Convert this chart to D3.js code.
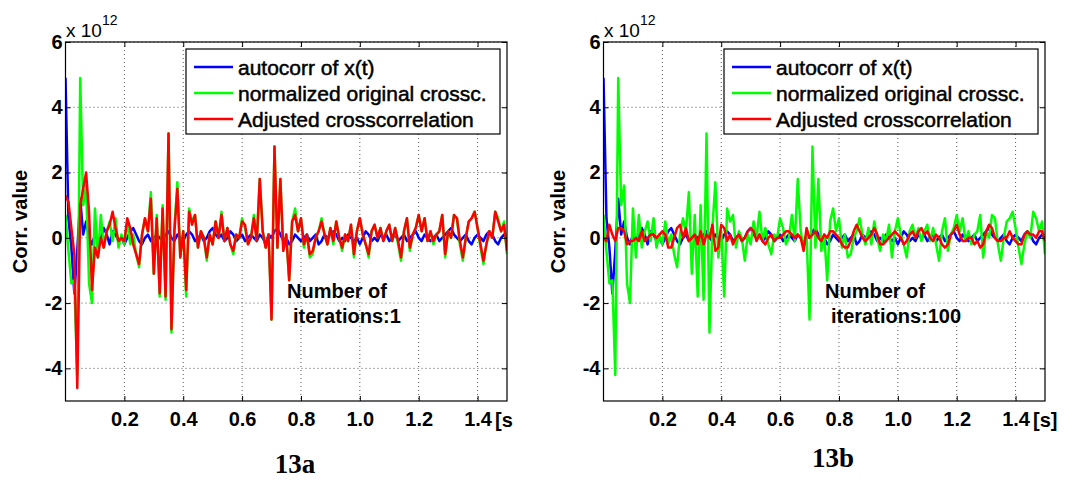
<!DOCTYPE html>
<html>
<head>
<meta charset="utf-8">
<script src="https://cdn.jsdelivr.net/npm/d3@7"></script>
<style>
  body { margin: 0; background: #fff; }
</style>
</head>
<body>
<div id="chart"></div>
<script>

// sample step of the correlation curves [s]
var step = 0.01;

// autocorr of x(t) (x 10^12), same in both panels
var blueAuto = [
  4.9, 0.6, -0.3, -1.7, -0.4, 1.2, 0.1, 0.5, 0.0, -0.2,
  0.1, -0.1, 0.0, 0.3, 0.1, -0.2, 0.2, 0.1, -0.1, 0.0,
  -0.2, 0.0, 0.2, 0.3, 0.1, -0.1, -0.2, 0.0, 0.1, -0.1,
  0.0, 0.1, 0.0, -0.1, 0.1, 0.2, 0.0, -0.1, 0.1, 0.0,
  -0.1, 0.1, 0.2, 0.1, -0.1, 0.0, 0.1, -0.1, 0.0, 0.2,
  0.3, 0.1, 0.0, 0.1, -0.1, 0.0, 0.2, 0.1, -0.1, 0.0,
  0.1, -0.1, 0.0, 0.1, 0.0, -0.1, 0.1, 0.0, -0.2, 0.1,
  0.0, 0.2, 0.3, 0.1, -0.1, 0.0, -0.2, -0.1, 0.1, 0.0,
  -0.1, 0.0, 0.1, -0.1, 0.0, 0.1, -0.2, -0.1, 0.1, 0.0,
  0.1, 0.2, 0.1, -0.1, 0.0, -0.1, 0.1, 0.0, -0.1, 0.0,
  -0.2, 0.0, 0.2, 0.1, -0.1, 0.0, -0.1, 0.1, 0.0, 0.1,
  -0.1, 0.0, 0.1, -0.1, 0.0, 0.1, -0.1, 0.0, 0.1, 0.2,
  0.0, -0.1, 0.1, 0.0, -0.1, 0.0, 0.1, -0.1, 0.0, 0.1,
  0.2, 0.3, 0.1, 0.0, -0.1, 0.0, 0.1, -0.1, -0.2, 0.0,
  0.1, 0.0, -0.1, 0.1, 0.2, 0.1, -0.1, -0.2, 0.0, 0.1,
  -0.1
];

// normalized original crossc., same in both panels
var greenOrig = [
  0.7, -0.4, -1.4, -1.3, -4.2, 4.9, 1.0, 1.6, -1.4, -2.0,
  0.9, -0.6, 0.7, -0.3, 0.2, 0.5, -0.1, 0.6, -0.3, 0.1,
  -0.2, 0.5, -0.2, 0.1, -0.5, -0.9, 0.1, 0.6, 0.2, 1.4,
  -1.1, 0.7, -1.8, 1.0, -1.9, 3.2, -2.9, 0.3, 1.7, -0.6,
  0.2, -1.8, 0.9, 0.5, 0.7, -0.3, 0.2, 0.0, -0.7, 0.1,
  -0.2, 0.5, 0.0, 0.8, -0.1, 0.3, -0.2, -0.5, 0.1, 0.0,
  0.6, 0.3, -0.2, 0.0, 0.7, -0.1, 1.8, 0.2, -0.3, 0.1,
  -2.5, 2.8, -0.3, 1.8, -0.4, 0.1, -1.3, 0.5, 0.9, 0.2,
  0.6, -0.3, 0.1, -0.6, -0.5, 0.0, 0.2, 0.6, 0.1, -0.2,
  0.3, -0.2, 0.5, 0.0, -0.4, 0.1, -0.1, 0.4, -0.6, 0.2,
  0.6, 0.1, -0.2, -0.6, 0.2, 0.4, 0.0, 0.3, -0.1, 0.2,
  0.4, -0.1, 0.3, -0.2, -0.7, 0.2, 0.6, -0.4, 0.1, 0.3,
  0.7, 0.2, 0.6, -0.1, 0.2, -0.2, 0.1, 0.2, 0.7, -0.6,
  0.2, 0.0, 0.7, 0.6, -0.2, -0.7, 0.0, 0.5, 0.6, 0.8,
  0.3, -0.3, -0.8, -0.2, 0.2, 0.0, 0.8, 0.6, 0.2, 0.5,
  -0.5
];

// adjusted crosscorrelation after 1 iteration (13a)
var redIter1 = [
  1.3, 1.1, 0.3, -0.5, -4.6, 1.0, 1.5, 2.0, 0.8, -1.6,
  -0.3, -0.6, 0.0, -0.3, 0.2, 0.4, 0.8, 0.3, -0.1, 0.0,
  -0.1, 0.6, 0.3, -0.2, -0.5, -0.8, 0.1, 0.6, 0.2, 1.2,
  -1.1, 0.6, -1.7, 0.9, -1.8, 3.2, -2.8, 0.2, 1.5, -0.6,
  0.2, -1.6, 0.8, 0.4, 0.7, -0.3, 0.2, 0.0, -0.6, 0.1,
  -0.2, 0.5, 0.0, 0.7, -0.1, 0.3, -0.2, -0.4, 0.1, 0.0,
  0.5, 0.4, -0.2, 0.0, 0.6, -0.1, 1.8, 0.2, -0.3, 0.1,
  -2.5, 2.8, -0.3, 1.8, -0.4, 0.1, -1.3, 0.5, 0.7, 0.2,
  0.6, -0.2, 0.1, -0.5, -0.4, 0.0, 0.2, 0.5, 0.1, -0.2,
  0.3, -0.1, 0.5, 0.0, -0.3, 0.1, -0.1, 0.4, -0.5, 0.2,
  0.6, 0.1, -0.2, -0.5, 0.2, 0.4, 0.0, 0.3, -0.1, 0.2,
  0.4, -0.1, 0.3, -0.1, -0.6, 0.2, 0.6, -0.3, 0.1, 0.3,
  0.7, 0.2, 0.6, -0.1, 0.2, -0.1, 0.1, 0.2, 0.7, -0.5,
  0.2, 0.0, 0.7, 0.6, -0.1, -0.6, 0.0, 0.5, 0.6, 0.8,
  0.3, -0.2, -0.7, -0.2, 0.2, 0.0, 0.8, 0.5, 0.2, 0.4,
  -0.4
];

// adjusted crosscorrelation after 100 iterations (13b)
var redIter100 = [
  0.0, -0.1, 0.4, 0.1, -0.1, 0.3, 0.3, 0.2, -0.2, -0.1,
  -0.1, 0.0, -0.1, 0.2, -0.1, 0.0, 0.1, 0.1, 0.0, 0.1,
  0.2, 0.1, -0.3, -0.3, 0.0, 0.3, 0.4, 0.0, 0.3, -0.1,
  0.0, 0.1, -0.2, 0.2, -0.2, 0.1, 0.0, 0.4, -0.4, -0.3,
  0.4, 0.3, -0.1, 0.1, -0.2, 0.0, 0.1, -0.1, 0.0, 0.2,
  0.3, 0.2, -0.1, 0.1, -0.1, -0.2, 0.0, 0.1, -0.1, 0.0,
  0.0, 0.1, 0.2, 0.2, 0.1, 0.0, 0.1, 0.0, -0.4, 0.3,
  0.0, 0.1, 0.2, 0.0, -0.1, 0.1, 0.0, 0.2, 0.2, 0.1,
  0.0, -0.2, -0.3, -0.3, -0.1, 0.2, 0.4, 0.2, 0.0, -0.1,
  0.0, 0.1, 0.3, 0.1, -0.2, -0.2, -0.1, 0.0, 0.1, 0.2,
  0.1, 0.0, -0.2, -0.1, 0.1, 0.2, 0.0, 0.2, 0.3, 0.1,
  0.2, 0.0, -0.1, 0.1, 0.0, -0.2, -0.3, -0.2, 0.1, 0.2,
  0.4, 0.1, -0.1, -0.1, 0.0, 0.0, -0.2, -0.1, -0.3, -0.2,
  0.2, 0.4, 0.3, 0.0, -0.1, -0.1, 0.0, 0.0, 0.2, 0.0,
  -0.1, -0.2, -0.2, 0.1, 0.2, 0.1, 0.1, 0.0, 0.2, 0.2,
  -0.1
];

var xTicks = [0.2, 0.4, 0.6, 0.8, 1.0, 1.2, 1.4];
var yTicks = [-4, -2, 0, 2, 4, 6];
var legendLabels = ["autocorr of x(t)", "normalized original crossc.", "Adjusted crosscorrelation"];
var seriesColors = ["#0000ff", "#00ff00", "#ff0000"];

var sansFont = "Arial, 'Liberation Sans', sans-serif";
var serifFont = "'Times New Roman', 'Liberation Serif', serif";

var svg = d3.select("#chart")
  .append("svg")
    .attr("width", 1078)
    .attr("height", 480);

// one panel of the figure
function drawPanel(dx, redSeries, iterText, caption, unitText, captionY) {

  var left = 65.5 + dx, right = 507 + dx, top = 42, bottom = 401;
  var id = "clip" + dx;

  var x = d3.scaleLinear().domain([0, 1.5]).range([left, right]);
  var y = d3.scaleLinear().domain([-5, 6]).range([bottom, top]);

  var g = svg.append("g");

  g.append("clipPath").attr("id", id)
    .append("rect")
      .attr("x", left).attr("y", top)
      .attr("width", right - left).attr("height", bottom - top);

  // dotted grid
  g.selectAll(".vgrid")
    .data(xTicks)
    .enter().append("line")
      .attr("x1", function(d) { return x(d); })
      .attr("x2", function(d) { return x(d); })
      .attr("y1", top).attr("y2", bottom)
      .attr("stroke", "#555")
      .attr("stroke-dasharray", "1,3");
  g.selectAll(".hgrid")
    .data(yTicks)
    .enter().append("line")
      .attr("y1", function(d) { return y(d); })
      .attr("y2", function(d) { return y(d); })
      .attr("x1", left).attr("x2", right)
      .attr("stroke", "#555")
      .attr("stroke-dasharray", "1,3");

  // curves
  var line = d3.line()
    .x(function(d, i) { return x(i * step); })
    .y(function(d) { return y(d); });

  var curves = g.append("g").attr("clip-path", "url(#" + id + ")");
  [blueAuto, greenOrig, redSeries].forEach(function(s, i) {
    curves.append("path")
      .datum(s)
      .attr("d", line)
      .attr("fill", "none")
      .attr("stroke", seriesColors[i])
      .attr("stroke-width", 2.5)
      .attr("stroke-linejoin", "round");
  });

  // axes: bottom with labels, ticks pointing inward on all sides
  var xAxis = g.append("g")
    .attr("transform", "translate(0," + bottom + ")")
    .call(d3.axisBottom(x).tickValues(xTicks).tickSize(-5).tickPadding(11)
      .tickFormat(d3.format(".1f")));
  var yAxis = g.append("g")
    .attr("transform", "translate(" + left + ",0)")
    .call(d3.axisLeft(y).tickValues(yTicks).tickSize(-5).tickPadding(3)
      .tickFormat(function(d) { return String(d); }));
  g.append("g")
    .attr("transform", "translate(0," + top + ")")
    .call(d3.axisTop(x).tickValues(xTicks).tickSize(-5).tickFormat(""));
  g.append("g")
    .attr("transform", "translate(" + right + ",0)")
    .call(d3.axisRight(y).tickValues(yTicks).tickSize(-5).tickFormat(""));

  g.selectAll(".domain").remove();
  g.selectAll(".tick line").attr("stroke", "#000");
  [xAxis, yAxis].forEach(function(a) {
    a.attr("font-size", 20)
     .attr("font-family", sansFont)
     .attr("font-weight", "bold");
    a.selectAll("text").attr("fill", "#000");
  });

  // box
  g.append("rect")
    .attr("x", left).attr("y", top)
    .attr("width", right - left).attr("height", bottom - top)
    .attr("fill", "none")
    .attr("stroke", "#000")
    .attr("stroke-width", 1.2);

  // exponent
  var ex = g.append("text")
    .attr("x", left + 0.5).attr("y", 37)
    .attr("font-family", sansFont)
    .attr("font-size", 19)
    .text("x 10");
  ex.append("tspan")
    .attr("dy", -12)
    .attr("font-size", 14)
    .text("12");

  // unit label at end of x axis
  g.append("text")
    .attr("x", right - 12).attr("y", 427)
    .attr("font-family", sansFont)
    .attr("font-size", 20)
    .attr("font-weight", "bold")
    .text(unitText);

  // y label
  g.append("text")
    .attr("transform", "translate(" + (27 + dx) + "," + ((top + bottom) / 2) + ") rotate(-90)")
    .attr("text-anchor", "middle")
    .attr("font-family", sansFont)
    .attr("font-size", 20)
    .attr("font-weight", "bold")
    .text("Corr. value");

  // legend
  var lg = g.append("g").attr("transform", "translate(" + (186 + dx) + ",49)");
  lg.append("rect")
    .attr("width", 314).attr("height", 85)
    .attr("fill", "#fff")
    .attr("stroke", "#000")
    .attr("stroke-width", 1.2);
  legendLabels.forEach(function(lab, i) {
    var yy = 18 + i * 26;
    lg.append("line")
      .attr("x1", 8).attr("x2", 47)
      .attr("y1", yy).attr("y2", yy)
      .attr("stroke", seriesColors[i])
      .attr("stroke-width", 2.5);
    lg.append("text")
      .attr("x", 52).attr("y", yy + 7.5)
      .attr("font-family", sansFont)
      .attr("font-size", 21)
      .attr("stroke", "#000")
      .attr("stroke-width", 0.5)
      .text(lab);
  });

  // iteration note
  var note = g.append("text")
    .attr("font-family", sansFont)
    .attr("font-size", 20)
    .attr("font-weight", "bold");
  note.append("tspan").attr("x", 287 + dx).attr("y", 298).text("Number of");
  note.append("tspan").attr("x", 293 + dx).attr("y", 323).text(iterText);

  // caption
  g.append("text")
    .attr("x", 295 + dx).attr("y", captionY)
    .attr("text-anchor", "middle")
    .attr("font-family", serifFont)
    .attr("font-size", 27)
    .attr("font-weight", "bold")
    .text(caption);
}

drawPanel(0, redIter1, "iterations:1", "13a", "[s", 473);
drawPanel(538, redIter100, "iterations:100", "13b", "[s]", 467);

</script>
</body>
</html>
